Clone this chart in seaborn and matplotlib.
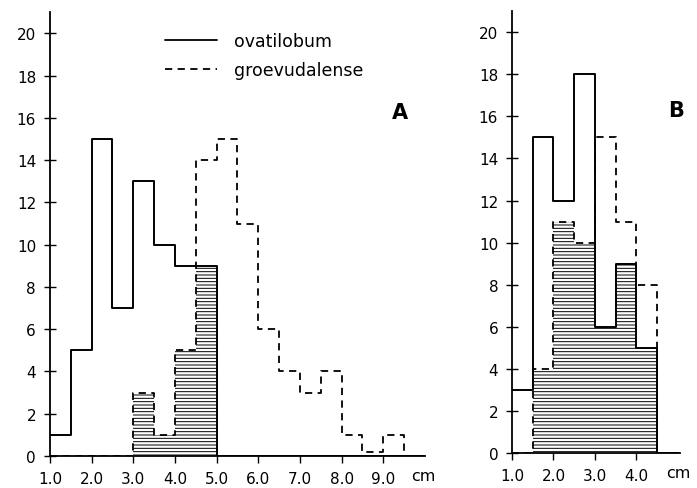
import numpy as np
import seaborn as sns
import matplotlib.pyplot as plt
from matplotlib.lines import Line2D

# class edges (cm) and counts per 0.5 cm class
edges_a = [1.0, 1.5, 2.0, 2.5, 3.0, 3.5, 4.0, 4.5, 5.0, 5.5, 6.0, 6.5, 7.0, 7.5, 8.0, 8.5, 9.0, 9.5]
ovat_a = [1, 5, 15, 7, 13, 10, 9, 9, 0, 0, 0, 0, 0, 0, 0, 0, 0]
groe_a = [0, 0, 0, 0, 3, 1, 5, 14, 15, 11, 6, 4, 3, 4, 1, 0.2, 1]

edges_b = [1.0, 1.5, 2.0, 2.5, 3.0, 3.5, 4.0, 4.5]
ovat_b = [3, 15, 12, 18, 6, 9, 5]
groe_b = [0, 4, 11, 10, 15, 11, 8]

xticks_a = [1.0, 2.0, 3.0, 4.0, 5.0, 6.0, 7.0, 8.0, 9.0]
xticks_b = [1.0, 2.0, 3.0, 4.0]

sns.set_style("white")
plt.rcParams['font.family'] = ['DejaVu Sans']
plt.rcParams['hatch.linewidth'] = 0.7
plt.rcParams['text.color'] = 'black'
plt.rcParams['xtick.color'] = 'black'
plt.rcParams['ytick.color'] = 'black'

fig = plt.figure(figsize=(6.97, 4.89), dpi=100)
ax_a = fig.add_axes([0.0717, 0.0654, 0.538, 0.9076])
ax_b = fig.add_axes([0.7346, 0.0716, 0.241, 0.9034])


def panel(ax, edges, ovat, groe, xticks, xmax, letter, letter_x):
    # one empty class after the last, so the outlines drop to the base line
    bins = list(edges) + [edges[-1] + 0.5]
    e = np.array(bins)
    centers = (e[:-1] + e[1:]) / 2
    ovat = list(ovat) + [0]
    groe = list(groe) + [0]
    overlap = np.minimum(ovat, groe)
    # hatched overlap
    sns.histplot(x=centers, weights=overlap, bins=bins, element="bars", fill=True,
                 facecolor="none", edgecolor="black", hatch="-----", linewidth=0, ax=ax)
    sns.histplot(x=centers, weights=groe, bins=bins, element="step", fill=False,
                 color="black", linestyle=(0, (4, 3)), linewidth=1.3, ax=ax)
    sns.histplot(x=centers, weights=ovat, bins=bins, element="step", fill=False,
                 color="black", linewidth=1.4, ax=ax)
    ax.set_xlim(1.0, xmax)
    ax.set_ylim(0, 21)
    ax.set_xlabel("")
    ax.set_ylabel("")
    ax.set_xticks(xticks)
    ax.set_xticklabels([f"{t:.1f}" for t in xticks])
    ax.set_yticks(range(0, 21, 2))
    ax.set_yticks(range(0, 21), minor=True)
    ax.tick_params(axis="y", which="both", direction="inout", length=8, width=1, labelsize=11, pad=6)
    ax.tick_params(axis="x", direction="out", length=5, width=1, labelsize=11, pad=6, bottom=True)
    ax.tick_params(axis="y", left=True)
    for s in ["top", "right"]:
        ax.spines[s].set_visible(False)
    for s in ["left", "bottom"]:
        ax.spines[s].set_color("black")
        ax.spines[s].set_linewidth(1.3)
    ax.annotate("cm", xy=(xmax - 0.05, 0), xycoords=("data", "axes fraction"),
                xytext=(0, -8.5), textcoords="offset points", ha="center", va="top", fontsize=11.5)
    ax.text(letter_x, 16.3, letter, fontsize=15, fontweight="bold", ha="center", va="center")


panel(ax_a, edges_a, ovat_a, groe_a, xticks_a, 10.0, "A", 9.4)
panel(ax_b, edges_b, ovat_b, groe_b, xticks_b, 5.05, "B", 4.95)

handles = [Line2D([], [], color="black", linewidth=1.3),
           Line2D([], [], color="black", linewidth=1.3, linestyle=(0, (4, 3)))]
ax_a.legend(handles, ["ovatilobum", "groevudalense"], loc="upper left",
            bbox_to_anchor=(0.265, 0.99), frameon=False, fontsize=12.5,
            handlelength=3.0, handletextpad=1.0, labelspacing=0.6)

fig.savefig("out.png", dpi=100)
